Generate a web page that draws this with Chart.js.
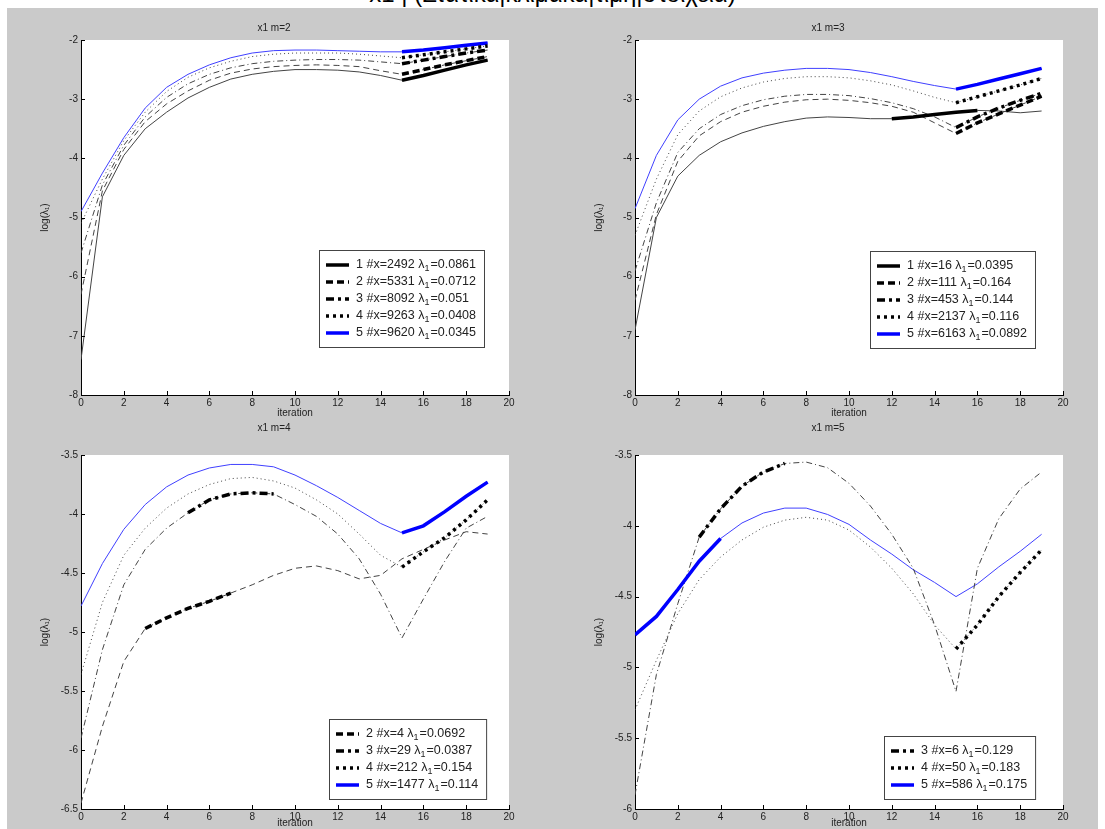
<!DOCTYPE html>
<html>
<head>
<meta charset="utf-8">
<script src="https://cdn.jsdelivr.net/npm/chart.js@4.4.0/dist/chart.umd.min.js"></script>
<style>
  body { margin: 0; width: 1105px; height: 829px; background: #fff; position: relative; overflow: hidden; font-family: Arial, "Liberation Sans", sans-serif; }
  #fig { position: absolute; left: 7px; top: 8px; width: 1091px; height: 821px; background: #cacaca; }
  #suptitle { position: absolute; top: -18px; left: 0; width: 1105px; text-align: center; font-size: 24px; line-height: 24px; color: #000; white-space: pre; }
  .pane { position: absolute; width: 551px; }
</style>
</head>
<body>
<div id="fig"></div>
<div id="suptitle">x1 | (Στατικά|κλίμακα|τιμή|στοιχεία)</div>
<div class="pane" style="left:0;top:0;height:419px"><canvas id="c2" width="551" height="419"></canvas></div>
<div class="pane" style="left:554px;top:0;height:419px"><canvas id="c3" width="551" height="419"></canvas></div>
<div class="pane" style="left:0;top:419px;height:410px"><canvas id="c4" width="551" height="410"></canvas></div>
<div class="pane" style="left:554px;top:419px;height:410px"><canvas id="c5" width="551" height="410"></canvas></div>
<script>
// iterations on the x axis
const iters = [0,1,2,3,4,5,6,7,8,9,10,11,12,13,14,15,16,17,18,19];

// m=2
const m2_1 = [-7.4,-4.65,-3.95,-3.5,-3.22,-2.98,-2.8,-2.66,-2.58,-2.53,-2.5,-2.5,-2.51,-2.54,-2.6,-2.68,-2.6,-2.51,-2.42,-2.34];
const m2_2 = [-6.3,-4.55,-3.85,-3.38,-3.08,-2.86,-2.68,-2.56,-2.49,-2.45,-2.43,-2.42,-2.43,-2.45,-2.52,-2.58,-2.5,-2.42,-2.35,-2.28];
const m2_3 = [-5.6,-4.45,-3.78,-3.3,-2.97,-2.74,-2.58,-2.47,-2.4,-2.36,-2.34,-2.33,-2.33,-2.34,-2.37,-2.4,-2.34,-2.28,-2.22,-2.17];
const m2_4 = [-5.1,-4.35,-3.7,-3.22,-2.87,-2.63,-2.47,-2.36,-2.28,-2.24,-2.22,-2.22,-2.22,-2.24,-2.27,-2.3,-2.25,-2.2,-2.15,-2.1];
const m2_5 = [-4.9,-4.25,-3.65,-3.15,-2.8,-2.58,-2.42,-2.3,-2.22,-2.18,-2.17,-2.17,-2.18,-2.19,-2.2,-2.2,-2.17,-2.13,-2.09,-2.05];
const m2_count = [2492, 5331, 8092, 9263, 9620];
const m2_lambda = ['0.0861', '0.0712', '0.051', '0.0408', '0.0345'];

// m=3
const m3_1 = [-6.9,-5.0,-4.3,-3.95,-3.72,-3.57,-3.46,-3.38,-3.32,-3.3,-3.31,-3.33,-3.33,-3.3,-3.26,-3.22,-3.19,-3.2,-3.23,-3.2];
const m3_2 = [-6.4,-4.95,-4.05,-3.62,-3.38,-3.22,-3.12,-3.05,-3.01,-3.0,-3.02,-3.06,-3.12,-3.22,-3.4,-3.58,-3.4,-3.25,-3.1,-2.95];
const m3_3 = [-5.9,-4.75,-3.9,-3.5,-3.26,-3.11,-3.01,-2.95,-2.92,-2.92,-2.94,-2.99,-3.06,-3.16,-3.3,-3.48,-3.3,-3.15,-3.02,-2.9];
const m3_4 = [-5.3,-4.35,-3.6,-3.2,-2.96,-2.81,-2.71,-2.65,-2.62,-2.62,-2.64,-2.69,-2.76,-2.86,-2.97,-3.06,-2.96,-2.86,-2.76,-2.65];
const m3_5 = [-4.85,-3.95,-3.35,-3.0,-2.78,-2.64,-2.56,-2.51,-2.48,-2.48,-2.5,-2.55,-2.62,-2.7,-2.77,-2.83,-2.75,-2.66,-2.57,-2.48];
const m3_count = [16, 111, 453, 2137, 6163];
const m3_lambda = ['0.0395', '0.164', '0.144', '0.116', '0.0892'];

// m=4
const m4_2 = [-6.45,-5.8,-5.25,-4.97,-4.88,-4.8,-4.74,-4.67,-4.6,-4.52,-4.46,-4.44,-4.48,-4.55,-4.52,-4.38,-4.3,-4.22,-4.15,-4.17];
const m4_3 = [-5.9,-5.15,-4.6,-4.3,-4.12,-3.99,-3.88,-3.83,-3.82,-3.83,-3.92,-4.02,-4.17,-4.38,-4.68,-5.05,-4.72,-4.4,-4.12,-4.02];
const m4_4 = [-5.36,-4.75,-4.35,-4.12,-3.95,-3.83,-3.75,-3.7,-3.69,-3.72,-3.78,-3.88,-4.0,-4.17,-4.35,-4.45,-4.32,-4.2,-4.05,-3.88];
const m4_5 = [-4.78,-4.42,-4.13,-3.92,-3.77,-3.67,-3.61,-3.58,-3.58,-3.6,-3.67,-3.76,-3.86,-3.97,-4.08,-4.16,-4.1,-3.98,-3.85,-3.73];
const m4_count = [4, 29, 212, 1477];
const m4_lambda = ['0.0692', '0.0387', '0.154', '0.114'];

// m=5
const m5_3 = [-5.9,-5.05,-4.55,-4.08,-3.88,-3.72,-3.62,-3.56,-3.55,-3.59,-3.7,-3.86,-4.06,-4.3,-4.7,-5.17,-4.3,-3.95,-3.74,-3.62];
const m5_4 = [-5.3,-4.95,-4.62,-4.38,-4.22,-4.1,-4.01,-3.96,-3.94,-3.96,-4.03,-4.15,-4.3,-4.48,-4.7,-4.87,-4.7,-4.5,-4.33,-4.17];
const m5_5 = [-4.77,-4.64,-4.45,-4.25,-4.09,-3.98,-3.91,-3.875,-3.875,-3.92,-3.99,-4.1,-4.2,-4.31,-4.4,-4.5,-4.41,-4.29,-4.18,-4.06];
const m5_count = [6, 50, 586];
const m5_lambda = ['0.129', '0.183', '0.175'];

// highlighted (thick) iteration ranges per series
const m2_thick = [[15,19],[15,19],[15,19],[15,19],[15,19]];
const m3_thick = [[12,16],[15,19],[15,19],[15,19],[15,19]];
const m4_thick = [[3,7],[5,9],[15,19],[15,19]];
const m5_thick = [[3,7],[15,19],[0,4]];

const FONT = 'Arial, "Liberation Sans", sans-serif';
const BLUE = '#0000ff';
const styles = {
  1: { thin: [], thick: [], color: '#000', thinColor: '#444' },
  2: { thin: [6,4], thick: [7,4], color: '#000', thinColor: '#444' },
  3: { thin: [6,3,1,3], thick: [8,4,3,4], color: '#000', thinColor: '#444' },
  4: { thin: [1,3], thick: [3,4], color: '#000', thinColor: '#444' },
  5: { thin: [], thick: [], color: BLUE, thinColor: '#4040ff' }
};

function pts(vals, range) {
  const all = vals.map((v, i) => ({ x: iters[i], y: v }));
  if (!range) return all;
  return all.filter(p => p.x >= range[0] && p.x <= range[1]);
}

const plotBg = {
  id: 'plotBg',
  beforeDraw(chart) {
    const a = chart.chartArea, ctx = chart.ctx;
    ctx.save();
    ctx.fillStyle = '#fff';
    ctx.fillRect(a.left, a.top, a.right - a.left, a.bottom - a.top);
    ctx.restore();
  }
};

// matlab style ticks pointing into the axes
const innerTicks = {
  id: 'innerTicks',
  afterDraw(chart) {
    const ctx = chart.ctx, a = chart.chartArea;
    const xs = chart.scales.x, ys = chart.scales.y;
    ctx.save();
    ctx.strokeStyle = '#000';
    ctx.lineWidth = 1;
    ctx.beginPath();
    xs.ticks.forEach(t => {
      const px = Math.round(xs.getPixelForValue(t.value)) + 0.5;
      ctx.moveTo(px, a.bottom); ctx.lineTo(px, a.bottom - 4);
    });
    ys.ticks.forEach(t => {
      const py = Math.round(ys.getPixelForValue(t.value)) + 0.5;
      ctx.moveTo(a.left, py); ctx.lineTo(a.left + 4, py);
    });
    ctx.stroke();
    ctx.restore();
  }
};

const boxLegend = {
  id: 'boxLegend',
  afterDraw(chart, args, opts) {
    const ctx = chart.ctx, a = chart.chartArea, items = opts.items;
    ctx.save();
    const f = '12.5px ' + FONT, fs = '9px ' + FONT;
    let tw = 0;
    items.forEach(it => {
      ctx.font = f;
      let w = ctx.measureText(it.pre).width + ctx.measureText(it.post).width;
      ctx.font = fs;
      w += ctx.measureText('1').width + 1;
      tw = Math.max(tw, w);
    });
    const rowH = 17;
    const w = 37 + tw + 8, h = items.length * rowH + 12;
    const x = Math.round(a.right - opts.right - w), y = Math.round(a.bottom - opts.bottom - h);
    ctx.fillStyle = '#fff';
    ctx.fillRect(x, y, w, h);
    ctx.strokeStyle = '#444';
    ctx.lineWidth = 1;
    ctx.strokeRect(x + 0.5, y + 0.5, w, h);
    items.forEach((it, i) => {
      const cy = y + 15 + rowH * i;
      ctx.beginPath();
      ctx.setLineDash(it.dash);
      ctx.strokeStyle = it.color;
      ctx.lineWidth = 3.5;
      ctx.moveTo(x + 7, cy);
      ctx.lineTo(x + 30, cy);
      ctx.stroke();
      ctx.setLineDash([]);
      ctx.fillStyle = '#222';
      ctx.textBaseline = 'middle';
      ctx.font = f;
      let tx = x + 37;
      ctx.fillText(it.pre, tx, cy);
      tx += ctx.measureText(it.pre).width;
      ctx.font = fs;
      ctx.fillText('1', tx, cy + 4);
      tx += ctx.measureText('1').width + 1;
      ctx.font = f;
      ctx.fillText(it.post, tx, cy);
    });
    ctx.restore();
  }
};

function makeChart(id, title, ids, series, thick, counts, lambdas, yMin, yMax, yStep, titlePad, xAxisH, legRight, legBottom) {
  const datasets = [];
  const items = [];
  ids.forEach((sid, k) => {
    const st = styles[sid];
    datasets.push({
      data: pts(series[k]), borderColor: st.thinColor, borderWidth: 1, borderDash: st.thin,
      pointRadius: 0, fill: false, tension: 0, order: 1
    });
    datasets.push({
      data: pts(series[k], thick[k]), borderColor: st.color, borderWidth: 3.5, borderDash: st.thick,
      pointRadius: 0, fill: false, tension: 0, order: 0
    });
    items.push({ pre: sid + ' #x=' + counts[k] + ' λ', post: '=' + lambdas[k], dash: st.thick, color: st.color });
  });
  const tickFont = { family: FONT, size: 10 };
  const gridCfg = { display: true, drawOnChartArea: false, drawTicks: false };
  new Chart(document.getElementById(id), {
    type: 'line',
    data: { datasets },
    plugins: [plotBg, innerTicks, boxLegend],
    options: {
      responsive: false,
      animation: false,
      layout: { padding: { left: 39, right: 42, top: 0, bottom: 0 } },
      plugins: {
        legend: { display: false },
        tooltip: { enabled: false },
        title: { display: true, text: title, color: '#222', font: { family: FONT, size: 10, weight: 'normal' }, padding: titlePad },
        boxLegend: { items, right: legRight, bottom: legBottom }
      },
      scales: {
        x: {
          type: 'linear', min: 0, max: 20,
          ticks: { stepSize: 2, font: tickFont, color: '#222', padding: 2, maxRotation: 0 },
          grid: gridCfg, border: { color: '#000', width: 1 },
          title: { display: true, text: 'iteration', color: '#222', font: tickFont, padding: { top: 0, bottom: 0 } },
          afterFit(s) { s.height = xAxisH; }
        },
        y: {
          min: yMin, max: yMax,
          ticks: { stepSize: yStep, font: tickFont, color: '#222', padding: 3,
            callback: v => String(Math.round(v * 100) / 100) },
          grid: gridCfg, border: { color: '#000', width: 1 },
          title: { display: true, text: 'log(λ₁)', color: '#222', font: tickFont, padding: { top: 0, bottom: 0 } },
          afterFit(s) { s.width = 42; }
        }
      }
    }
  });
}

makeChart('c2', 'x1 m=2', [1,2,3,4,5], [m2_1, m2_2, m2_3, m2_4, m2_5], m2_thick, m2_count, m2_lambda,
  -8, -2, 1, { top: 22, bottom: 6 }, 24, 25, 48);
makeChart('c3', 'x1 m=3', [1,2,3,4,5], [m3_1, m3_2, m3_3, m3_4, m3_5], m3_thick, m3_count, m3_lambda,
  -8, -2, 1, { top: 22, bottom: 6 }, 24, 28, 47);
makeChart('c4', 'x1 m=4', [2,3,4,5], [m4_2, m4_3, m4_4, m4_5], m4_thick, m4_count, m4_lambda,
  -6.5, -3.5, 0.5, { top: 3, bottom: 21 }, 20, 23, 10);
makeChart('c5', 'x1 m=5', [3,4,5], [m5_3, m5_4, m5_5], m5_thick, m5_count, m5_lambda,
  -6, -3.5, 0.5, { top: 3, bottom: 21 }, 20, 28, 10);
</script>
</body>
</html>
